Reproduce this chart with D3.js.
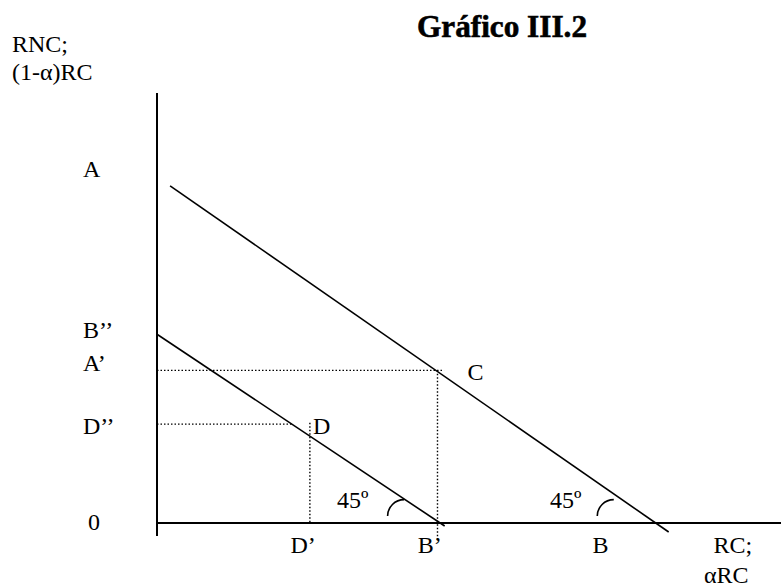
<!DOCTYPE html>
<html lang="es">
<head>
<meta charset="UTF-8">
<title>Gráfico III.2</title>
<script src="https://d3js.org/d3.v7.min.js"></script>
<style>
    body { margin: 0; background: #fff; }
    .line { fill: none; stroke: #000; stroke-width: 1.6px; }
    .axisline { stroke: #000; stroke-width: 2px; }
    .dotted { fill: none; stroke: #000; stroke-width: 1.4px; stroke-dasharray: 1.5,2; }
    .arc { fill: none; stroke: #000; stroke-width: 1.6px; }
</style>
</head>
<body>
<div id="chart"></div>
<script>
    // líneas (en unidades del gráfico)
    const lineUpper = [[2.1, 78.4], [82.0, -2.1]];
    const lineLower = [[0, 43.9], [46.1, -0.7]];

    // puntos de intersección
    const pointC = [44.95, 35.5];
    const pointD = [24.5, 23.1];

    // líneas punteadas
    const dotted = [
        [[0, 35.5], [46.0, 35.5]],
        [[44.95, 35.5], [44.95, -4.0]],
        [[0, 23.0], [21.6, 23.0]],
        [[24.5, 23.3], [24.5, 0]]
    ];

    // etiquetas de los ejes
    const yTickVals = [80.5, 43.2, 35.5, 20.9, -1.6];
    const yTickLabels = ["A", "B\u2019\u2019", "A\u2019", "D\u2019\u2019", "0"];
    const xTickVals = [21.3, 41.7, 69.7, 89.1];
    const xTickLabels = ["D\u2019", "B\u2019", "B", "RC;"];

    // arcos de 45º (vértice sobre el eje x)
    const arcCenters = [[39.6, 1.6], [73.2, 1.6]];

    const width = 781, height = 586;
    const serif = "Liberation Serif";

    const svg = d3.select("#chart").append("svg")
        .attr("width", width)
        .attr("height", height)
        .attr("font-family", serif)
        .attr("font-size", 24);

    const x = d3.scaleLinear().domain([0, 100]).range([157, 781]);
    const y = d3.scaleLinear().domain([0, 100]).range([523, 93]);

    function label(px, py, t) {
        return svg.append("text")
            .attr("x", px).attr("y", py)
            .attr("font-family", serif)
            .text(t);
    }

    // título
    label(417, 37, "Gráfico III.2")
        .attr("font-weight", "bold")
        .attr("font-size", 32)
        .attr("stroke", "#000")
        .attr("stroke-width", 0.6)
        .attr("textLength", 170)
        .attr("lengthAdjust", "spacingAndGlyphs");

    label(12, 52, "RNC;");
    label(12, 80, "(1-α)RC");

    // ejes
    svg.append("line").attr("class", "axisline")
        .attr("x1", x(0)).attr("x2", x(0))
        .attr("y1", y(100)).attr("y2", y(-3));
    svg.append("line").attr("class", "axisline")
        .attr("x1", x(0)).attr("x2", x(100))
        .attr("y1", y(0)).attr("y2", y(0));

    const yAxis = svg.append("g")
        .attr("transform", "translate(" + x(0) + ",0)")
        .call(d3.axisLeft(y).tickValues(yTickVals).tickSize(0)
            .tickFormat((d, i) => yTickLabels[i]));
    yAxis.select(".domain").remove();
    yAxis.attr("font-size", 24).attr("font-family", serif);
    yAxis.selectAll("text")
        .attr("x", (d, i) => i === 4 ? -69 : -74)
        .attr("dy", 0)
        .attr("text-anchor", "start");

    const xAxis = svg.append("g")
        .attr("transform", "translate(0," + y(0) + ")")
        .call(d3.axisBottom(x).tickValues(xTickVals).tickSize(0)
            .tickFormat((d, i) => xTickLabels[i]));
    xAxis.select(".domain").remove();
    xAxis.attr("font-size", 24).attr("font-family", serif);
    xAxis.selectAll("text")
        .attr("y", 30)
        .attr("dy", 0)
        .attr("text-anchor", "start");

    label(704, 583, "αRC");

    const lineGen = d3.line().x(d => x(d[0])).y(d => y(d[1]));

    // líneas punteadas
    svg.selectAll(".dotted")
        .data(dotted)
        .enter()
        .append("path")
        .attr("class", "dotted")
        .attr("d", lineGen);

    // rectas principales
    svg.selectAll(".line")
        .data([lineUpper, lineLower])
        .enter()
        .append("path")
        .attr("class", "line")
        .attr("d", lineGen);

    // arcos
    const arc = d3.arc().innerRadius(16.5).outerRadius(16.5)
        .startAngle(-Math.PI / 2).endAngle(0);
    svg.selectAll(".arc")
        .data(arcCenters)
        .enter()
        .append("path")
        .attr("class", "arc")
        .attr("transform", d => "translate(" + x(d[0]) + "," + y(d[1]) + ")")
        .attr("d", arc);

    label(337, 508, "45º");
    label(550, 508, "45º");

    // etiquetas de puntos
    label(x(pointC[0]) + 30, y(pointC[1]) + 10, "C");
    label(x(pointD[0]) + 3, y(pointD[1]) + 10, "D");
</script>
</body>
</html>
